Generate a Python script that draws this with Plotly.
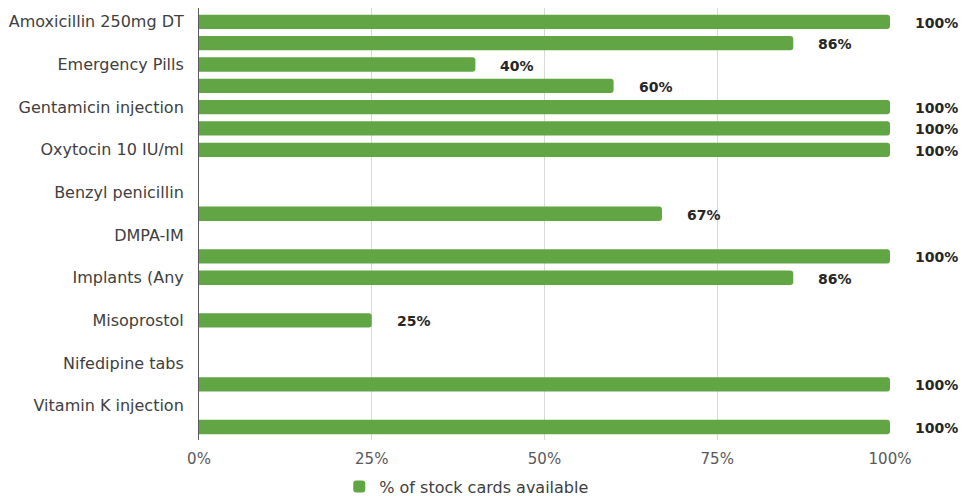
import plotly.graph_objects as go

# Medicines shown as axis labels (one label every second row)
drugs = [
    "Amoxicillin 250mg DT",
    "Emergency Pills",
    "Gentamicin injection",
    "Oxytocin 10 IU/ml",
    "Benzyl penicillin",
    "DMPA-IM",
    "Implants (Any",
    "Misoprostol",
    "Nifedipine tabs",
    "Vitamin K injection",
]

# Share of stock cards available per row (None = no bar)
stock_pct = [
    1.00, 0.86, 0.40, 0.60, 1.00, 1.00, 1.00, None, None, 0.67,
    None, 1.00, 0.86, None, 0.25, None, None, 1.00, None, 1.00,
]

x_ticks = [0, 0.25, 0.5, 0.75, 1.0]
x_tick_labels = ["0%", "25%", "50%", "75%", "100%"]

rows = list(range(len(stock_pct)))
label_rows = rows[::2]

GREEN = "#62a545"
FONT = "'DejaVu Sans', sans-serif"

fig = go.Figure()
fig.add_trace(go.Bar(
    x=stock_pct,
    y=rows,
    orientation="h",
    marker=dict(color=GREEN, line=dict(width=0)),
    name="% of stock cards available",
    showlegend=True,
    hoverinfo="skip",
))

# Value labels to the right of each bar
for r, v in zip(rows, stock_pct):
    if v is None:
        continue
    fig.add_annotation(
        x=v, y=r, text=f"<b>{round(v * 100)}%</b>",
        showarrow=False, xanchor="left", xshift=23, yshift=-1,
        font=dict(family=FONT, size=14, color="#262626"),
    )

fig.update_layout(
    width=966, height=496,
    margin=dict(l=199, r=76, t=8, b=56, autoexpand=False),
    paper_bgcolor="white", plot_bgcolor="white",
    bargap=0.33,
    barcornerradius=3,
    font=dict(family=FONT, size=15, color="#404040"),
    legend=dict(
        orientation="h", x=0.203, xanchor="left", y=-0.108, yanchor="middle",
        font=dict(family=FONT, size=16, color="#404040"),
        itemwidth=30,
    ),
    xaxis=dict(
        range=[0, 1.0],
        tickvals=x_ticks, ticktext=x_tick_labels,
        showgrid=True, gridcolor="#d9d9d9", gridwidth=1,
        zeroline=False, showline=False,
        ticks="", ticklabelstandoff=8,
        tickfont=dict(family=FONT, size=15, color="#595959"),
        fixedrange=True,
    ),
    yaxis=dict(
        range=[19.61, -0.65],
        tickvals=label_rows, ticktext=drugs,
        showgrid=False, zeroline=False,
        showline=True, linecolor="#595959", linewidth=1,
        ticks="", ticklabelstandoff=11,
        tickfont=dict(family=FONT, size=16, color="#404040"),
        fixedrange=True,
    ),
)

fig.write_html("out.html")
